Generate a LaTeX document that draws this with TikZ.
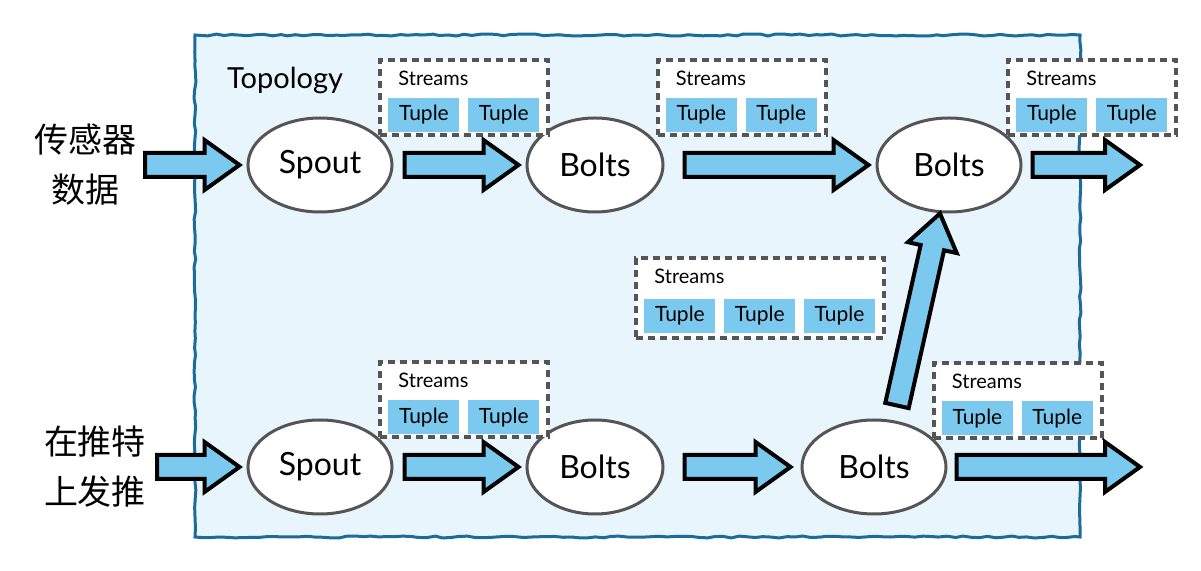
\documentclass[tikz,border=0pt]{standalone}
\usepackage{fontspec}
\setmainfont{Lato}
\newfontfamily\cjk{Noto Sans CJK SC}
\usetikzlibrary{positioning,calc,shapes.geometric,decorations.pathmorphing}

\definecolor{tupleblue}{HTML}{7BC9EE}
\definecolor{topobg}{HTML}{E8F5FD}
\definecolor{topoline}{HTML}{1B6C9A}
\definecolor{edgegray}{HTML}{555555}

% fat outlined arrow from #1 to the tip #2
\newcommand{\fatarrow}[2]{%
  \path #1 coordinate (fa0) #2 coordinate (fa1);
  \coordinate (fah) at ($(fa1)!17.5pt!(fa0)$);
  \draw[fatline] ($(fa0)!6pt!90:(fa1)$) -- ($(fah)!6pt!90:(fa1)$) -- ($(fah)!12.5pt!90:(fa1)$)
    -- (fa1) -- ($(fah)!12.5pt!-90:(fa1)$) -- ($(fah)!6pt!-90:(fa1)$) -- ($(fa0)!6pt!-90:(fa1)$) -- cycle;}

\begin{document}
\begin{tikzpicture}[x=0.5pt, y=-0.5pt,
                    ovalnode/.style={ellipse, draw=edgegray, line width=1.5pt, fill=white, minimum width=72pt, minimum height=47pt, inner sep=0pt, font=\fontsize{16}{18}\selectfont},
                    streambox/.style={draw=edgegray, line width=2pt, dash pattern=on 3.5pt off 2.5pt, fill=white, minimum width=84pt, minimum height=37.5pt, inner sep=0pt},
                    tuple/.style={fill=tupleblue, minimum width=35.5pt, minimum height=17pt, inner sep=0pt, font=\fontsize{10.5}{12}\selectfont},
                    streamlabel/.style={inner sep=0pt, font=\fontsize{10}{12}\selectfont},
                    cjklabel/.style={align=center, font=\cjk\fontsize{17}{25}\selectfont},
                    fatline/.style={draw=black, line width=2pt, line join=miter, fill=tupleblue},
                    topobox/.style={draw=topoline, line width=1.5pt, fill=topobg, decorate, decoration={random steps, segment length=4pt, amplitude=0.5pt}},]
    \useasboundingbox (0,0) rectangle (1201,571);
    % topology frame
    \draw[topobox] (195,35) rectangle (1080,537);
    \node[font=\fontsize{14.5}{16}\selectfont] (topo) at (285,80) {Topology};
    % sources
    \node[cjklabel]      (srca)    at (85,165)     {传感器\\数据};
    \node[cjklabel]      (srcb)    at (95,467)     {在推特\\上发推};
    \coordinate (ina) at (145,165);
    \coordinate (inb) at (157,467);
    \coordinate (outa) at (1140,165);
    \coordinate (outb) at (1140,467);
    % nodes
    \node[ovalnode]      (spouta)  at (320,165)    {Spout};
    \node[ovalnode, minimum width=68pt]      (boltsa)  at (595,165)    {Bolts};
    \node[ovalnode]      (boltsb)  at (949,165)    {Bolts};
    \node[ovalnode]      (spoutb)  at (320,467)    {Spout};
    \node[ovalnode, minimum width=68pt]      (boltsc)  at (595,467)    {Bolts};
    \node[ovalnode]      (boltsd)  at (874,467)    {Bolts};
    % streams
    \node[streambox]     (sa)      at (464,97.5)   {};
    \node[streamlabel, anchor=west] (sal) at ($(sa.north west)+(20,20)$) {Streams};
    \node[tuple, anchor=south west] (sa1) at ($(sa.south west)+(10,-5)$) {Tuple};
    \node[tuple, right=4pt of sa1] (sa2) {Tuple};
    \node[streambox]     (sb)      at (741.5,97.5) {};
    \node[streamlabel, anchor=west] (sbl) at ($(sb.north west)+(20,20)$) {Streams};
    \node[tuple, anchor=south west] (sb1) at ($(sb.south west)+(10,-5)$) {Tuple};
    \node[tuple, right=4pt of sb1] (sb2) {Tuple};
    \node[streambox]     (sc)      at (1092,97.5)  {};
    \node[streamlabel, anchor=west] (scl) at ($(sc.north west)+(20,20)$) {Streams};
    \node[tuple, anchor=south west] (sc1) at ($(sc.south west)+(10,-5)$) {Tuple};
    \node[tuple, right=4pt of sc1] (sc2) {Tuple};
    \node[streambox, minimum width=124pt, minimum height=40pt] (sd) at (760,298) {};
    \node[streamlabel, anchor=west] (sdl) at ($(sd.north west)+(20,20)$) {Streams};
    \node[tuple, anchor=south west] (sd1) at ($(sd.south west)+(10,-7)$) {Tuple};
    \node[tuple, right=4pt of sd1] (sd2) {Tuple};
    \node[tuple, right=4pt of sd2] (sd3) {Tuple};
    \node[streambox]     (se)      at (464,400)    {};
    \node[streamlabel, anchor=west] (sel) at ($(se.north west)+(20,20)$) {Streams};
    \node[tuple, anchor=south west] (se1) at ($(se.south west)+(10,-5)$) {Tuple};
    \node[tuple, right=4pt of se1] (se2) {Tuple};
    \node[streambox]     (sf)      at (1017.5,401) {};
    \node[streamlabel, anchor=west] (sfl) at ($(sf.north west)+(20,20)$) {Streams};
    \node[tuple, anchor=south west] (sf1) at ($(sf.south west)+(10,-5)$) {Tuple};
    \node[tuple, right=4pt of sf1] (sf2) {Tuple};
    % arrows
    \fatarrow{(ina)}{($(spouta.west)+(-7,0)$)}
    \fatarrow{($(spouta.east)+(11,0)$)}{($(boltsa.west)+(-7,0)$)}
    \fatarrow{($(boltsa.east)+(20,0)$)}{($(boltsb.west)+(-7,0)$)}
    \fatarrow{($(boltsb.east)+(10,0)$)}{(outa)}
    \fatarrow{(inb)}{($(spoutb.west)+(-7,0)$)}
    \fatarrow{($(spoutb.east)+(11,0)$)}{($(boltsc.west)+(-7,0)$)}
    \fatarrow{($(boltsc.east)+(20,0)$)}{($(boltsd.west)+(-10,0)$)}
    \fatarrow{($(boltsd.east)+(9,0)$)}{(outb)}
    \fatarrow{($(boltsd.north)+(23,-13)$)}{($(boltsb.south)+(-9,0)$)}
\end{tikzpicture}
\end{document}
